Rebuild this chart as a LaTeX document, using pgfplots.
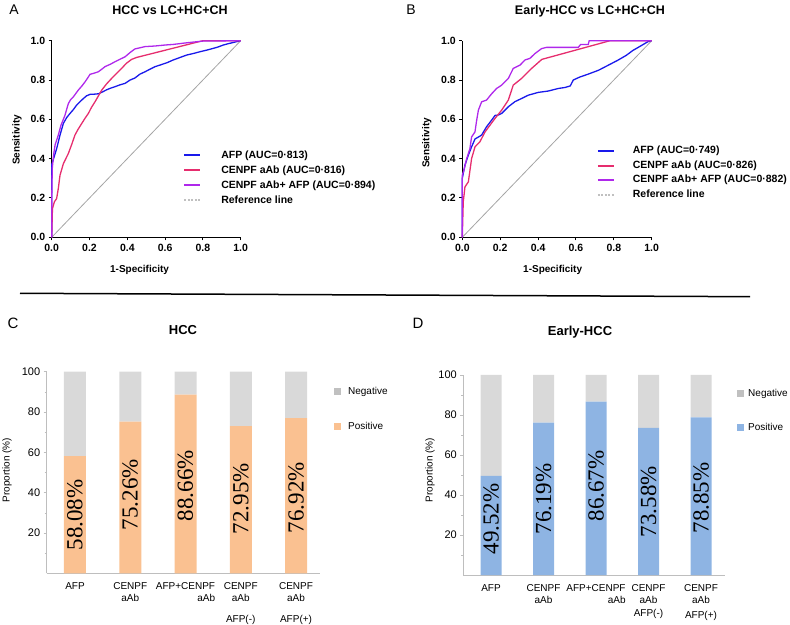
\documentclass[border=0pt]{standalone}
\usepackage{fontspec}
\setmainfont{Liberation Sans}
\newfontfamily\timesfont{Liberation Serif}
\usepackage{pgfplots}
\pgfplotsset{compat=1.18}

\definecolor{afpblue}{RGB}{25,25,235}
\definecolor{cenpink}{RGB}{230,45,110}
\definecolor{combpurple}{RGB}{175,40,235}
\definecolor{refgray}{RGB}{165,165,165}
\definecolor{peach}{RGB}{250,193,145}
\definecolor{barblue}{RGB}{142,180,227}
\definecolor{bargray}{RGB}{217,217,217}
\definecolor{leggray}{RGB}{192,192,192}
\definecolor{axgray}{RGB}{190,190,190}

\tikzset{vallab/.style={rotate=90, font=\timesfont\fontsize{23}{23}\selectfont, inner sep=0pt, text=black}}

\pgfplotsset{
  rocstyle/.style={
    scale only axis, height=196.6pt,
    xmin=0, xmax=1, ymin=0, ymax=1, clip=false,
    axis lines=left, axis line style={-, line width=1.3pt, black},
    xtick={0,0.2,0.4,0.6,0.8,1.0}, ytick={0,0.2,0.4,0.6,0.8,1.0},
    xticklabels={0.0,0.2,0.4,0.6,0.8,1.0}, yticklabels={0.0,0.2,0.4,0.6,0.8,1.0},
    tick align=outside, major tick length=3pt,
    tick style={black, line width=1pt},
    ticklabel style={font=\bfseries\fontsize{10.5}{12}\selectfont},
    xlabel={1-Specificity}, ylabel={Sensitivity},
    label style={font=\bfseries\fontsize{10}{12}\selectfont},
    legend cell align=left,
    legend image code/.code={\draw[#1, line width=2pt] (0pt,0pt) -- (16pt,0pt);},
  },
  barstyle/.style={
    scale only axis, ymin=0, ymax=100, clip=false,
    axis x line*=bottom, axis y line*=left,
    axis line style={-, axgray, line width=0.8pt},
    ytick={20,40,60,80,100}, minor ytick={10,30,50,70,90},
    tick align=outside, major tick length=3pt, minor tick length=2pt,
    tick style={axgray, line width=0.6pt},
    xtick={0,1,2,3,4}, x tick style={draw=none},
    /pgf/number format/assume math mode=true,
    yticklabel style={font=\fontsize{11}{13}\selectfont},
    xticklabel style={font=\fontsize{10}{12}\selectfont, anchor=north, yshift=-1.5pt},
    ylabel={Proportion (\%)},
    label style={font=\fontsize{10}{12}\selectfont},
    ybar stacked,
    legend cell align=left, reverse legend,
  },
}

\begin{document}
\begin{tikzpicture}
\useasboundingbox (0,0) rectangle (790pt,624pt);

% ---------------- Panel A ----------------
\node[font=\fontsize{14}{14}\selectfont] at (14pt,614pt) {A};
\node[font=\bfseries\fontsize{12.5}{14}\selectfont] at (170pt,614pt) {HCC vs LC+HC+CH};
\begin{axis}[rocstyle, width=189pt, at={(51.7pt,386.7pt)}, anchor=south west,
  xlabel style={at={(axis description cs:0.465,-0.166)}, anchor=center},
  ylabel style={at={(axis description cs:-0.184,0.495)}, anchor=center},
  legend style={at={(0.695,0.4415)}, anchor=north west, draw=none, fill=none,
    inner sep=0pt, row sep=5.5pt, column sep=20pt,
    nodes={inner sep=0pt, text height=7.5pt, text depth=2pt, anchor=west,
      font=\bfseries\fontsize{10.5}{12}\selectfont}}]
\addplot[refgray, line width=0.8pt, forget plot] coordinates {(0,0) (1,1)};
\addplot[afpblue, line width=1.3pt] coordinates {
(0,0) (0,0.37) (0.01,0.40) (0.026,0.45) (0.044,0.52) (0.062,0.58) (0.08,0.61)
(0.097,0.63) (0.115,0.65) (0.13,0.67) (0.15,0.69) (0.168,0.706) (0.185,0.72)
(0.203,0.727) (0.225,0.728) (0.247,0.73) (0.27,0.74) (0.29,0.75) (0.31,0.758)
(0.335,0.766) (0.36,0.775) (0.388,0.783) (0.415,0.80) (0.44,0.81) (0.467,0.83)
(0.494,0.842) (0.52,0.855) (0.547,0.868) (0.573,0.876) (0.61,0.888) (0.643,0.902)
(0.68,0.915) (0.714,0.927) (0.75,0.935) (0.785,0.944) (0.82,0.952) (0.855,0.961)
(0.88,0.968) (0.908,0.978) (0.935,0.985) (0.961,0.991) (1,1)};
\addlegendentry{AFP (AUC=0·813)}
\addplot[cenpink, line width=1.3pt] coordinates {
(0,0) (0.004,0.146) (0.014,0.18) (0.026,0.197) (0.035,0.248) (0.044,0.316)
(0.062,0.375) (0.088,0.426) (0.105,0.47) (0.123,0.52) (0.14,0.55) (0.159,0.579)
(0.176,0.605) (0.194,0.63) (0.21,0.66) (0.229,0.689) (0.265,0.749) (0.29,0.78)
(0.317,0.808) (0.345,0.835) (0.37,0.859) (0.395,0.885) (0.423,0.905) (0.45,0.915)
(0.80,1.0) (1,1)};
\addlegendentry{CENPF aAb (AUC=0·816)}
\addplot[combpurple, line width=1.3pt] coordinates {
(0,0) (0,0.18) (0.003,0.35) (0.01,0.42) (0.018,0.47) (0.035,0.52) (0.049,0.57)
(0.07,0.62) (0.088,0.68) (0.1,0.70) (0.115,0.715) (0.141,0.749) (0.16,0.77)
(0.176,0.79) (0.19,0.81) (0.203,0.829) (0.225,0.835) (0.247,0.842) (0.265,0.855)
(0.282,0.868) (0.31,0.88) (0.335,0.893) (0.36,0.905) (0.388,0.918) (0.415,0.94)
(0.44,0.958) (0.494,0.97) (0.547,0.973) (0.6,0.978) (0.643,0.981) (0.72,0.99)
(0.80,0.998) (1,1)};
\addlegendentry{CENPF aAb+ AFP (AUC=0·894)}
\addlegendimage{refgray!70, dash pattern=on 2pt off 1.5pt}
\addlegendentry{Reference line}
\end{axis}

% ---------------- Panel B ----------------
\node[font=\fontsize{14}{14}\selectfont] at (411pt,614pt) {B};
\node[font=\bfseries\fontsize{12.5}{14}\selectfont] at (590pt,613pt) {Early-HCC vs LC+HC+CH};
\begin{axis}[rocstyle, width=189.4pt, at={(462.3pt,386.7pt)}, anchor=south west,
  xlabel style={at={(axis description cs:0.477,-0.166)}, anchor=center},
  ylabel style={at={(axis description cs:-0.188,0.48)}, anchor=center},
  legend style={at={(0.7096,0.463)}, anchor=north west, draw=none, fill=none,
    inner sep=0pt, row sep=5pt, column sep=18pt,
    nodes={inner sep=0pt, text height=7.5pt, text depth=2pt, anchor=west,
      font=\bfseries\fontsize{10.5}{12}\selectfont}}]
\addplot[refgray, line width=0.8pt, forget plot] coordinates {(0,0) (1,1)};
\addplot[afpblue, line width=1.3pt] coordinates {
(0,0) (0,0.30) (0.014,0.367) (0.032,0.418) (0.049,0.46) (0.067,0.50) (0.085,0.51)
(0.102,0.52) (0.128,0.562) (0.155,0.596) (0.173,0.62) (0.19,0.622) (0.208,0.63)
(0.243,0.664) (0.278,0.69) (0.313,0.706) (0.349,0.723) (0.375,0.73) (0.401,0.737)
(0.454,0.744) (0.507,0.757) (0.542,0.762) (0.57,0.77) (0.586,0.80) (0.62,0.815)
(0.665,0.83) (0.72,0.85) (0.77,0.875) (0.82,0.90) (0.865,0.925) (0.90,0.95)
(0.945,0.975) (0.98,0.995) (1,1)};
\addlegendentry{AFP (AUC=0·749)}
\addplot[cenpink, line width=1.3pt] coordinates {
(0,0) (0.005,0.18) (0.014,0.256) (0.032,0.282) (0.049,0.40) (0.067,0.46)
(0.093,0.486) (0.12,0.536) (0.146,0.57) (0.173,0.605) (0.208,0.647) (0.243,0.698)
(0.269,0.774) (0.313,0.808) (0.366,0.859) (0.42,0.905) (0.78,1.0) (1,1)};
\addlegendentry{CENPF aAb (AUC=0·826)}
\addplot[combpurple, line width=1.3pt] coordinates {
(0,0) (0,0.316) (0.011,0.35) (0.023,0.40) (0.04,0.45) (0.049,0.51) (0.067,0.536)
(0.075,0.59) (0.085,0.647) (0.102,0.689) (0.128,0.698) (0.155,0.73) (0.181,0.757)
(0.208,0.774) (0.243,0.808) (0.269,0.859) (0.305,0.876) (0.331,0.902) (0.357,0.91)
(0.384,0.935) (0.419,0.96) (0.445,0.966) (0.612,0.966) (0.625,0.981) (0.665,0.981)
(0.67,1.0) (1,1)};
\addlegendentry{CENPF aAb+ AFP (AUC=0·882)}
\addlegendimage{refgray!70, dash pattern=on 2pt off 1.5pt}
\addlegendentry{Reference line}
\end{axis}

% separator
\draw[line width=1.5pt] (20pt,330.7pt) -- (750pt,327.3pt);

% ---------------- Panel C ----------------
\node[font=\fontsize{15}{15}\selectfont] at (13pt,301pt) {C};
\node[font=\bfseries\fontsize{13}{14}\selectfont] at (183pt,294pt) {HCC};
\begin{axis}[barstyle, width=273.3pt, height=201.6pt,
  at={(46.7pt,50.7pt)}, anchor=south west,
  xmin=-0.512, xmax=4.434, bar width=22pt,
  xticklabels={
    {\begin{tabular}{@{}c@{}}AFP\end{tabular}},
    {\begin{tabular}{@{}c@{}}CENPF\\aAb\end{tabular}},
    {\begin{tabular}{@{}r@{}}AFP+CENPF\\aAb\end{tabular}},
    {\begin{tabular}{@{}c@{}}CENPF\\aAb\\[9pt]AFP(-)\end{tabular}},
    {\begin{tabular}{@{}c@{}}CENPF\\aAb\\[9pt]AFP(+)\end{tabular}}},
  ylabel style={at={(axis description cs:-0.145,0.512)}, anchor=center},
  legend style={at={(1.051,0.924)}, anchor=north west, draw=none, fill=none,
    inner sep=0pt, row sep=26pt, column sep=7pt,
    nodes={inner sep=0pt, text height=7.5pt, text depth=1.5pt, anchor=west,
      font=\fontsize{10}{12}\selectfont}}]
\addplot[fill=peach, draw=none,
  legend image code/.code={\fill[peach] (0pt,-3.5pt) rectangle (7pt,3.5pt);}]
  coordinates {(0,58.08) (1,75.26) (2,88.66) (3,72.95) (4,76.92)};
\addlegendentry{Positive}
\addplot[fill=bargray, draw=none,
  legend image code/.code={\fill[leggray] (0pt,-3.5pt) rectangle (7pt,3.5pt);}]
  coordinates {(0,41.92) (1,24.74) (2,11.34) (3,27.05) (4,23.08)};
\addlegendentry{Negative}
\coordinate (c0) at (axis cs:0,29.0);
\coordinate (c1) at (axis cs:1,39.0);
\coordinate (c2) at (axis cs:2,43.5);
\coordinate (c3) at (axis cs:3,37.0);
\coordinate (c4) at (axis cs:4,37.5);
\end{axis}
\node[vallab] at (c0) {58.08\%};
\node[vallab] at (c1) {75.26\%};
\node[vallab] at (c2) {88.66\%};
\node[vallab] at (c3) {72.95\%};
\node[vallab] at (c4) {76.92\%};

% ---------------- Panel D ----------------
\node[font=\fontsize{15}{15}\selectfont] at (418pt,301pt) {D};
\node[font=\bfseries\fontsize{13}{14}\selectfont] at (580pt,292pt) {Early-HCC};
\begin{axis}[barstyle, width=261.7pt, height=200pt,
  at={(463.3pt,49pt)}, anchor=south west,
  xmin=-0.528, xmax=4.457, bar width=21pt,
  xticklabels={
    {\begin{tabular}{@{}c@{}}AFP\end{tabular}},
    {\begin{tabular}{@{}c@{}}CENPF\\aAb\end{tabular}},
    {\begin{tabular}{@{}r@{}}AFP+CENPF\\aAb\end{tabular}},
    {\begin{tabular}{@{}c@{}}CENPF\\aAb\\[1pt]AFP(-)\end{tabular}},
    {\begin{tabular}{@{}c@{}}CENPF\\aAb\\[3pt]AFP(+)\end{tabular}}},
  ylabel style={at={(axis description cs:-0.127,0.525)}, anchor=center},
  legend style={at={(1.046,0.93)}, anchor=north west, draw=none, fill=none,
    inner sep=0pt, row sep=25pt, column sep=4pt,
    nodes={inner sep=0pt, text height=7.5pt, text depth=1.5pt, anchor=west,
      font=\fontsize{10}{12}\selectfont}}]
\addplot[fill=barblue, draw=none,
  legend image code/.code={\fill[barblue] (0pt,-3.5pt) rectangle (7pt,3.5pt);}]
  coordinates {(0,49.52) (1,76.19) (2,86.67) (3,73.58) (4,78.85)};
\addlegendentry{Positive}
\addplot[fill=bargray, draw=none,
  legend image code/.code={\fill[leggray] (0pt,-3.5pt) rectangle (7pt,3.5pt);}]
  coordinates {(0,50.48) (1,23.81) (2,13.33) (3,26.42) (4,21.15)};
\addlegendentry{Negative}
\coordinate (d0) at (axis cs:0,28.0);
\coordinate (d1) at (axis cs:1,38.0);
\coordinate (d2) at (axis cs:2,44.5);
\coordinate (d3) at (axis cs:3,36.7);
\coordinate (d4) at (axis cs:4,38.5);
\end{axis}
\node[vallab] at (d0) {49.52\%};
\node[vallab] at (d1) {76.19\%};
\node[vallab] at (d2) {86.67\%};
\node[vallab] at (d3) {73.58\%};
\node[vallab] at (d4) {78.85\%};
\end{tikzpicture}
\end{document}
